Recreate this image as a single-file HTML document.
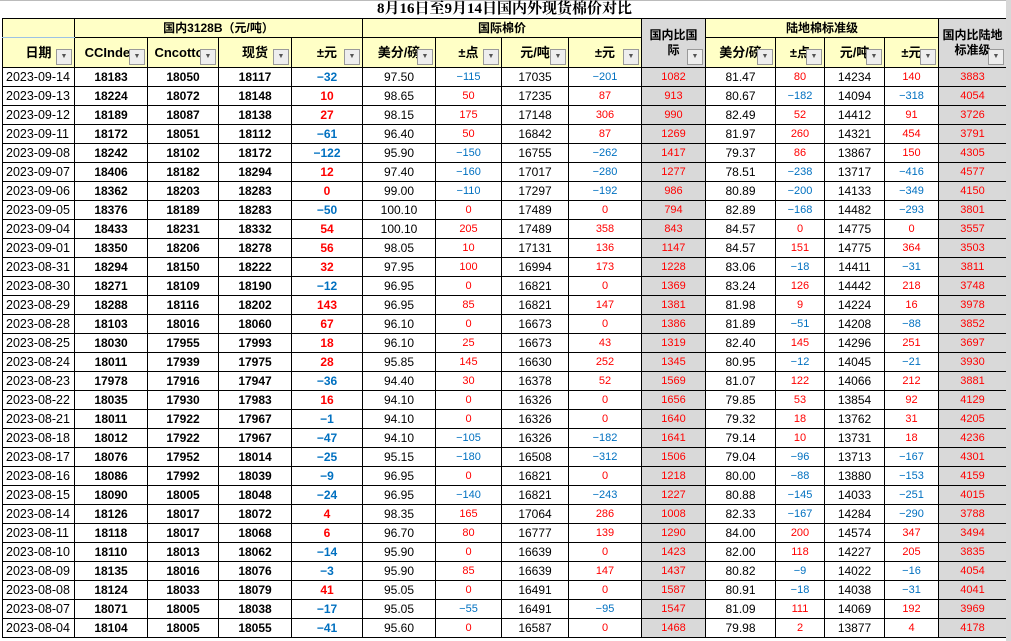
<!DOCTYPE html>
<html><head><meta charset="utf-8"><style>
html,body{margin:0;padding:0;background:#fff;width:1011px;height:641px;overflow:hidden}
.wrap{position:absolute;left:2px;top:0;width:1004px}
.edge{position:absolute;left:1006px;top:0;width:5px;height:641px;background:#d8d8d8}
.topl{position:absolute;left:0;top:0;width:1011px;height:1px;background:#bbb}
table{border-collapse:collapse;table-layout:fixed;width:1004px;font-family:"Liberation Sans","Noto Sans CJK SC",sans-serif}
td{border:1px solid #000;height:18px;padding:0;text-align:center;font-size:12px;white-space:nowrap;overflow:hidden;position:relative;line-height:18px}
tr.t td{border:none;border-bottom:1px solid #000;height:18px;font-family:"Liberation Serif","Noto Serif CJK SC",serif;font-size:15px;line-height:18px;font-weight:bold;text-align:center;overflow:visible}
.y{background:#ffffc6}
.g{background:#d9d9d9}
.h1 td{font-weight:bold;font-size:12px}
.h2 td{height:29px;font-weight:bold;font-size:13px;line-height:14px;vertical-align:middle}
.dd{position:absolute;right:2px;bottom:2px;width:14px;height:14px;border:1px solid #999;background:#eee;font-size:7px;line-height:14px;color:#555;text-align:center;font-weight:normal}
.d{text-align:left;padding-left:3px;font-size:12.5px}
.b{font-weight:bold}
.r{color:#f00;font-size:11px}
.u{color:#0070c0;font-size:11px}
.rb{color:#f00;font-weight:bold}
.ub{color:#0070c0;font-weight:bold}
.gr{background:#d9d9d9;color:#f00;font-size:11px}
</style></head><body>
<div class="topl"></div>
<div class="wrap"><table>
<colgroup><col style="width:72px"><col style="width:73px"><col style="width:71px"><col style="width:73px"><col style="width:71px"><col style="width:73px"><col style="width:66px"><col style="width:67px"><col style="width:73px"><col style="width:64px"><col style="width:70px"><col style="width:49px"><col style="width:60px"><col style="width:54px"><col style="width:68px"></colgroup>
<tr class="t"><td colspan="15">8月16日至9月14日国内外现货棉价对比</td></tr>
<tr class="h1"><td class="y" style="border-bottom:1px solid #9cc2e5"></td><td class="y" colspan="4">国内3128B（元/吨）</td><td class="y" colspan="4">国际棉价</td><td class="g" rowspan="2" style="font-size:12px;line-height:15px">国内比国<br>际<span class="dd">▼</span></td><td class="y" colspan="4">陆地棉标准级</td><td class="g" rowspan="2" style="font-size:12px;line-height:15px">国内比陆地<br>标准级<span class="dd">▼</span></td></tr>
<tr class="h2"><td class="y">日期<span class="dd">▼</span></td><td class="y">CCIndex<span class="dd">▼</span></td><td class="y">Cncotton<span class="dd">▼</span></td><td class="y">现货<span class="dd">▼</span></td><td class="y">±元<span class="dd">▼</span></td><td class="y">美分/磅<span class="dd">▼</span></td><td class="y">±点<span class="dd">▼</span></td><td class="y">元/吨<span class="dd">▼</span></td><td class="y">±元<span class="dd">▼</span></td><td class="y">美分/磅<span class="dd">▼</span></td><td class="y">±点<span class="dd">▼</span></td><td class="y">元/吨<span class="dd">▼</span></td><td class="y">±元<span class="dd">▼</span></td></tr>
<tr><td class="d">2023-09-14</td><td class="b">18183</td><td class="b">18050</td><td class="b">18117</td><td class="ub">−32</td><td>97.50</td><td class="u">−115</td><td>17035</td><td class="u">−201</td><td class="gr">1082</td><td>81.47</td><td class="r">80</td><td>14234</td><td class="r">140</td><td class="gr">3883</td></tr>
<tr><td class="d">2023-09-13</td><td class="b">18224</td><td class="b">18072</td><td class="b">18148</td><td class="rb">10</td><td>98.65</td><td class="r">50</td><td>17235</td><td class="r">87</td><td class="gr">913</td><td>80.67</td><td class="u">−182</td><td>14094</td><td class="u">−318</td><td class="gr">4054</td></tr>
<tr><td class="d">2023-09-12</td><td class="b">18189</td><td class="b">18087</td><td class="b">18138</td><td class="rb">27</td><td>98.15</td><td class="r">175</td><td>17148</td><td class="r">306</td><td class="gr">990</td><td>82.49</td><td class="r">52</td><td>14412</td><td class="r">91</td><td class="gr">3726</td></tr>
<tr><td class="d">2023-09-11</td><td class="b">18172</td><td class="b">18051</td><td class="b">18112</td><td class="ub">−61</td><td>96.40</td><td class="r">50</td><td>16842</td><td class="r">87</td><td class="gr">1269</td><td>81.97</td><td class="r">260</td><td>14321</td><td class="r">454</td><td class="gr">3791</td></tr>
<tr><td class="d">2023-09-08</td><td class="b">18242</td><td class="b">18102</td><td class="b">18172</td><td class="ub">−122</td><td>95.90</td><td class="u">−150</td><td>16755</td><td class="u">−262</td><td class="gr">1417</td><td>79.37</td><td class="r">86</td><td>13867</td><td class="r">150</td><td class="gr">4305</td></tr>
<tr><td class="d">2023-09-07</td><td class="b">18406</td><td class="b">18182</td><td class="b">18294</td><td class="rb">12</td><td>97.40</td><td class="u">−160</td><td>17017</td><td class="u">−280</td><td class="gr">1277</td><td>78.51</td><td class="u">−238</td><td>13717</td><td class="u">−416</td><td class="gr">4577</td></tr>
<tr><td class="d">2023-09-06</td><td class="b">18362</td><td class="b">18203</td><td class="b">18283</td><td class="rb">0</td><td>99.00</td><td class="u">−110</td><td>17297</td><td class="u">−192</td><td class="gr">986</td><td>80.89</td><td class="u">−200</td><td>14133</td><td class="u">−349</td><td class="gr">4150</td></tr>
<tr><td class="d">2023-09-05</td><td class="b">18376</td><td class="b">18189</td><td class="b">18283</td><td class="ub">−50</td><td>100.10</td><td class="r">0</td><td>17489</td><td class="r">0</td><td class="gr">794</td><td>82.89</td><td class="u">−168</td><td>14482</td><td class="u">−293</td><td class="gr">3801</td></tr>
<tr><td class="d">2023-09-04</td><td class="b">18433</td><td class="b">18231</td><td class="b">18332</td><td class="rb">54</td><td>100.10</td><td class="r">205</td><td>17489</td><td class="r">358</td><td class="gr">843</td><td>84.57</td><td class="r">0</td><td>14775</td><td class="r">0</td><td class="gr">3557</td></tr>
<tr><td class="d">2023-09-01</td><td class="b">18350</td><td class="b">18206</td><td class="b">18278</td><td class="rb">56</td><td>98.05</td><td class="r">10</td><td>17131</td><td class="r">136</td><td class="gr">1147</td><td>84.57</td><td class="r">151</td><td>14775</td><td class="r">364</td><td class="gr">3503</td></tr>
<tr><td class="d">2023-08-31</td><td class="b">18294</td><td class="b">18150</td><td class="b">18222</td><td class="rb">32</td><td>97.95</td><td class="r">100</td><td>16994</td><td class="r">173</td><td class="gr">1228</td><td>83.06</td><td class="u">−18</td><td>14411</td><td class="u">−31</td><td class="gr">3811</td></tr>
<tr><td class="d">2023-08-30</td><td class="b">18271</td><td class="b">18109</td><td class="b">18190</td><td class="ub">−12</td><td>96.95</td><td class="r">0</td><td>16821</td><td class="r">0</td><td class="gr">1369</td><td>83.24</td><td class="r">126</td><td>14442</td><td class="r">218</td><td class="gr">3748</td></tr>
<tr><td class="d">2023-08-29</td><td class="b">18288</td><td class="b">18116</td><td class="b">18202</td><td class="rb">143</td><td>96.95</td><td class="r">85</td><td>16821</td><td class="r">147</td><td class="gr">1381</td><td>81.98</td><td class="r">9</td><td>14224</td><td class="r">16</td><td class="gr">3978</td></tr>
<tr><td class="d">2023-08-28</td><td class="b">18103</td><td class="b">18016</td><td class="b">18060</td><td class="rb">67</td><td>96.10</td><td class="r">0</td><td>16673</td><td class="r">0</td><td class="gr">1386</td><td>81.89</td><td class="u">−51</td><td>14208</td><td class="u">−88</td><td class="gr">3852</td></tr>
<tr><td class="d">2023-08-25</td><td class="b">18030</td><td class="b">17955</td><td class="b">17993</td><td class="rb">18</td><td>96.10</td><td class="r">25</td><td>16673</td><td class="r">43</td><td class="gr">1319</td><td>82.40</td><td class="r">145</td><td>14296</td><td class="r">251</td><td class="gr">3697</td></tr>
<tr><td class="d">2023-08-24</td><td class="b">18011</td><td class="b">17939</td><td class="b">17975</td><td class="rb">28</td><td>95.85</td><td class="r">145</td><td>16630</td><td class="r">252</td><td class="gr">1345</td><td>80.95</td><td class="u">−12</td><td>14045</td><td class="u">−21</td><td class="gr">3930</td></tr>
<tr><td class="d">2023-08-23</td><td class="b">17978</td><td class="b">17916</td><td class="b">17947</td><td class="ub">−36</td><td>94.40</td><td class="r">30</td><td>16378</td><td class="r">52</td><td class="gr">1569</td><td>81.07</td><td class="r">122</td><td>14066</td><td class="r">212</td><td class="gr">3881</td></tr>
<tr><td class="d">2023-08-22</td><td class="b">18035</td><td class="b">17930</td><td class="b">17983</td><td class="rb">16</td><td>94.10</td><td class="r">0</td><td>16326</td><td class="r">0</td><td class="gr">1656</td><td>79.85</td><td class="r">53</td><td>13854</td><td class="r">92</td><td class="gr">4129</td></tr>
<tr><td class="d">2023-08-21</td><td class="b">18011</td><td class="b">17922</td><td class="b">17967</td><td class="ub">−1</td><td>94.10</td><td class="r">0</td><td>16326</td><td class="r">0</td><td class="gr">1640</td><td>79.32</td><td class="r">18</td><td>13762</td><td class="r">31</td><td class="gr">4205</td></tr>
<tr><td class="d">2023-08-18</td><td class="b">18012</td><td class="b">17922</td><td class="b">17967</td><td class="ub">−47</td><td>94.10</td><td class="u">−105</td><td>16326</td><td class="u">−182</td><td class="gr">1641</td><td>79.14</td><td class="r">10</td><td>13731</td><td class="r">18</td><td class="gr">4236</td></tr>
<tr><td class="d">2023-08-17</td><td class="b">18076</td><td class="b">17952</td><td class="b">18014</td><td class="ub">−25</td><td>95.15</td><td class="u">−180</td><td>16508</td><td class="u">−312</td><td class="gr">1506</td><td>79.04</td><td class="u">−96</td><td>13713</td><td class="u">−167</td><td class="gr">4301</td></tr>
<tr><td class="d">2023-08-16</td><td class="b">18086</td><td class="b">17992</td><td class="b">18039</td><td class="ub">−9</td><td>96.95</td><td class="r">0</td><td>16821</td><td class="r">0</td><td class="gr">1218</td><td>80.00</td><td class="u">−88</td><td>13880</td><td class="u">−153</td><td class="gr">4159</td></tr>
<tr><td class="d">2023-08-15</td><td class="b">18090</td><td class="b">18005</td><td class="b">18048</td><td class="ub">−24</td><td>96.95</td><td class="u">−140</td><td>16821</td><td class="u">−243</td><td class="gr">1227</td><td>80.88</td><td class="u">−145</td><td>14033</td><td class="u">−251</td><td class="gr">4015</td></tr>
<tr><td class="d">2023-08-14</td><td class="b">18126</td><td class="b">18017</td><td class="b">18072</td><td class="rb">4</td><td>98.35</td><td class="r">165</td><td>17064</td><td class="r">286</td><td class="gr">1008</td><td>82.33</td><td class="u">−167</td><td>14284</td><td class="u">−290</td><td class="gr">3788</td></tr>
<tr><td class="d">2023-08-11</td><td class="b">18118</td><td class="b">18017</td><td class="b">18068</td><td class="rb">6</td><td>96.70</td><td class="r">80</td><td>16777</td><td class="r">139</td><td class="gr">1290</td><td>84.00</td><td class="r">200</td><td>14574</td><td class="r">347</td><td class="gr">3494</td></tr>
<tr><td class="d">2023-08-10</td><td class="b">18110</td><td class="b">18013</td><td class="b">18062</td><td class="ub">−14</td><td>95.90</td><td class="r">0</td><td>16639</td><td class="r">0</td><td class="gr">1423</td><td>82.00</td><td class="r">118</td><td>14227</td><td class="r">205</td><td class="gr">3835</td></tr>
<tr><td class="d">2023-08-09</td><td class="b">18135</td><td class="b">18016</td><td class="b">18076</td><td class="ub">−3</td><td>95.90</td><td class="r">85</td><td>16639</td><td class="r">147</td><td class="gr">1437</td><td>80.82</td><td class="u">−9</td><td>14022</td><td class="u">−16</td><td class="gr">4054</td></tr>
<tr><td class="d">2023-08-08</td><td class="b">18124</td><td class="b">18033</td><td class="b">18079</td><td class="rb">41</td><td>95.05</td><td class="r">0</td><td>16491</td><td class="r">0</td><td class="gr">1587</td><td>80.91</td><td class="u">−18</td><td>14038</td><td class="u">−31</td><td class="gr">4041</td></tr>
<tr><td class="d">2023-08-07</td><td class="b">18071</td><td class="b">18005</td><td class="b">18038</td><td class="ub">−17</td><td>95.05</td><td class="u">−55</td><td>16491</td><td class="u">−95</td><td class="gr">1547</td><td>81.09</td><td class="r">111</td><td>14069</td><td class="r">192</td><td class="gr">3969</td></tr>
<tr><td class="d">2023-08-04</td><td class="b">18104</td><td class="b">18005</td><td class="b">18055</td><td class="ub">−41</td><td>95.60</td><td class="r">0</td><td>16587</td><td class="r">0</td><td class="gr">1468</td><td>79.98</td><td class="r">2</td><td>13877</td><td class="r">4</td><td class="gr">4178</td></tr>
</table></div>
<div class="edge"></div>
</body></html>
